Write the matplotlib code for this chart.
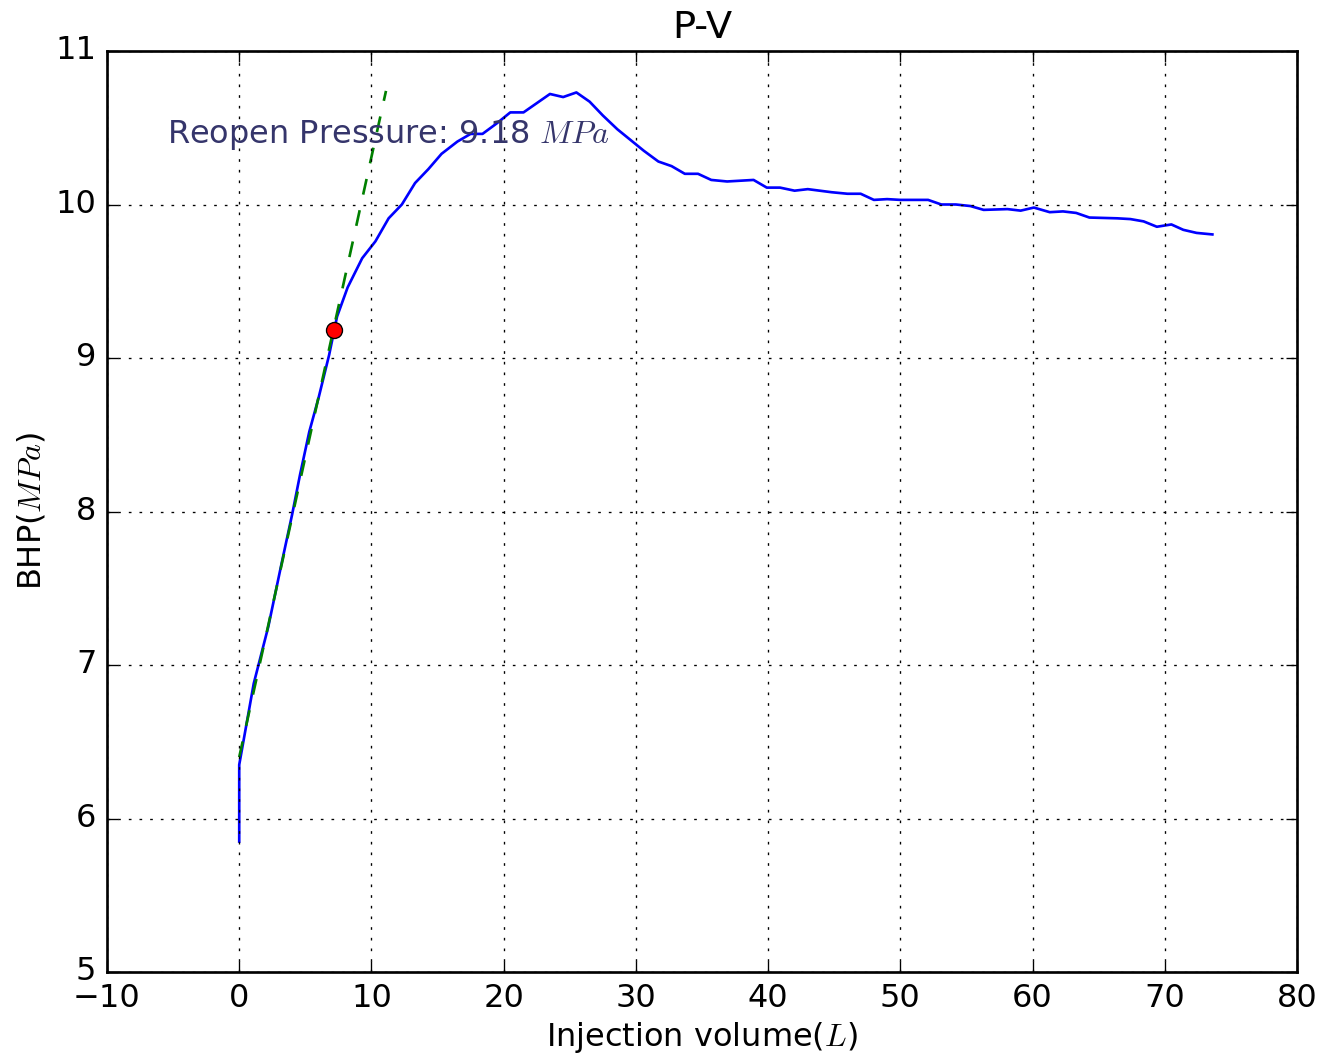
import matplotlib
matplotlib.use('Agg')
from matplotlib import pyplot as plt

# injection volume (L) vs bottom-hole pressure (MPa)
volume = [0, 0, 1.1, 2.2, 3.2, 4.0, 4.6, 5.3, 6.0, 6.8, 7.4, 8.2, 9.3,
          10.3, 11.3, 12.3, 13.3, 14.3, 15.3, 16.5, 17.5, 18.4, 19.5,
          20.5, 21.5, 22.5, 23.5, 24.5, 25.5, 26.5, 27.5, 28.6, 29.6,
          30.6, 31.7, 32.7, 33.7, 34.7, 35.7, 36.9, 38.9, 39.9, 40.9,
          42.0, 43.0, 44.8, 46.0, 47.0, 48.0, 49.0, 50.0, 51.2, 52.1,
          53.1, 54.2, 55.3, 56.3, 58.1, 59.1, 60.1, 61.3, 62.3, 63.3,
          64.3, 66.4, 67.4, 68.4, 69.4, 70.5, 71.4, 72.4, 73.6]
bhp = [5.85, 6.35, 6.88, 7.25, 7.66, 7.98, 8.24, 8.52, 8.74, 9.02, 9.27,
       9.46, 9.65, 9.76, 9.91, 10.0, 10.14, 10.23, 10.33, 10.41, 10.46,
       10.46, 10.53, 10.60, 10.60, 10.66, 10.72, 10.70, 10.73, 10.67,
       10.58, 10.49, 10.42, 10.35, 10.28, 10.25, 10.20, 10.20, 10.16,
       10.15, 10.16, 10.11, 10.11, 10.09, 10.10, 10.08, 10.07, 10.07,
       10.03, 10.035, 10.03, 10.03, 10.03, 10.0, 10.0, 9.99, 9.965,
       9.97, 9.96, 9.98, 9.95, 9.955, 9.945, 9.915, 9.91, 9.905, 9.89,
       9.855, 9.87, 9.835, 9.815, 9.805]

# linear fit of the early (elastic) section
fit_volume = [0, 11.1]
fit_bhp = [6.40, 10.74]

reopen_volume = 7.2
reopen_pressure = 9.18

plt.style.use('classic')
W, H, DPI = 1325, 1057, 192
fig = plt.figure(figsize=(W / DPI, H / DPI), dpi=DPI, facecolor='white')
ax = fig.add_axes([107 / W, 85 / H, 1190 / W, 921 / H])

ax.plot(volume, bhp, color='blue', lw=1.0)
ax.plot(fit_volume, fit_bhp, color='green', ls='--', lw=1.0)
ax.plot([reopen_volume], [reopen_pressure], 'o', color='red',
        markeredgecolor='black', markersize=6)
ax.text(-5.45, 10.398, 'Reopen Pressure: %.2f $MPa$' % reopen_pressure,
        color='#35356b', fontsize=12, va='baseline')

ax.set_xlim(-10, 80)
ax.set_ylim(5, 11)
ax.grid(True)
ax.set_title('P-V')
ax.set_xlabel('Injection volume($L$)', labelpad=2.4)
ax.set_ylabel('BHP($MPa$)', labelpad=3)

fig.savefig('out.png', dpi=DPI, facecolor='white')
